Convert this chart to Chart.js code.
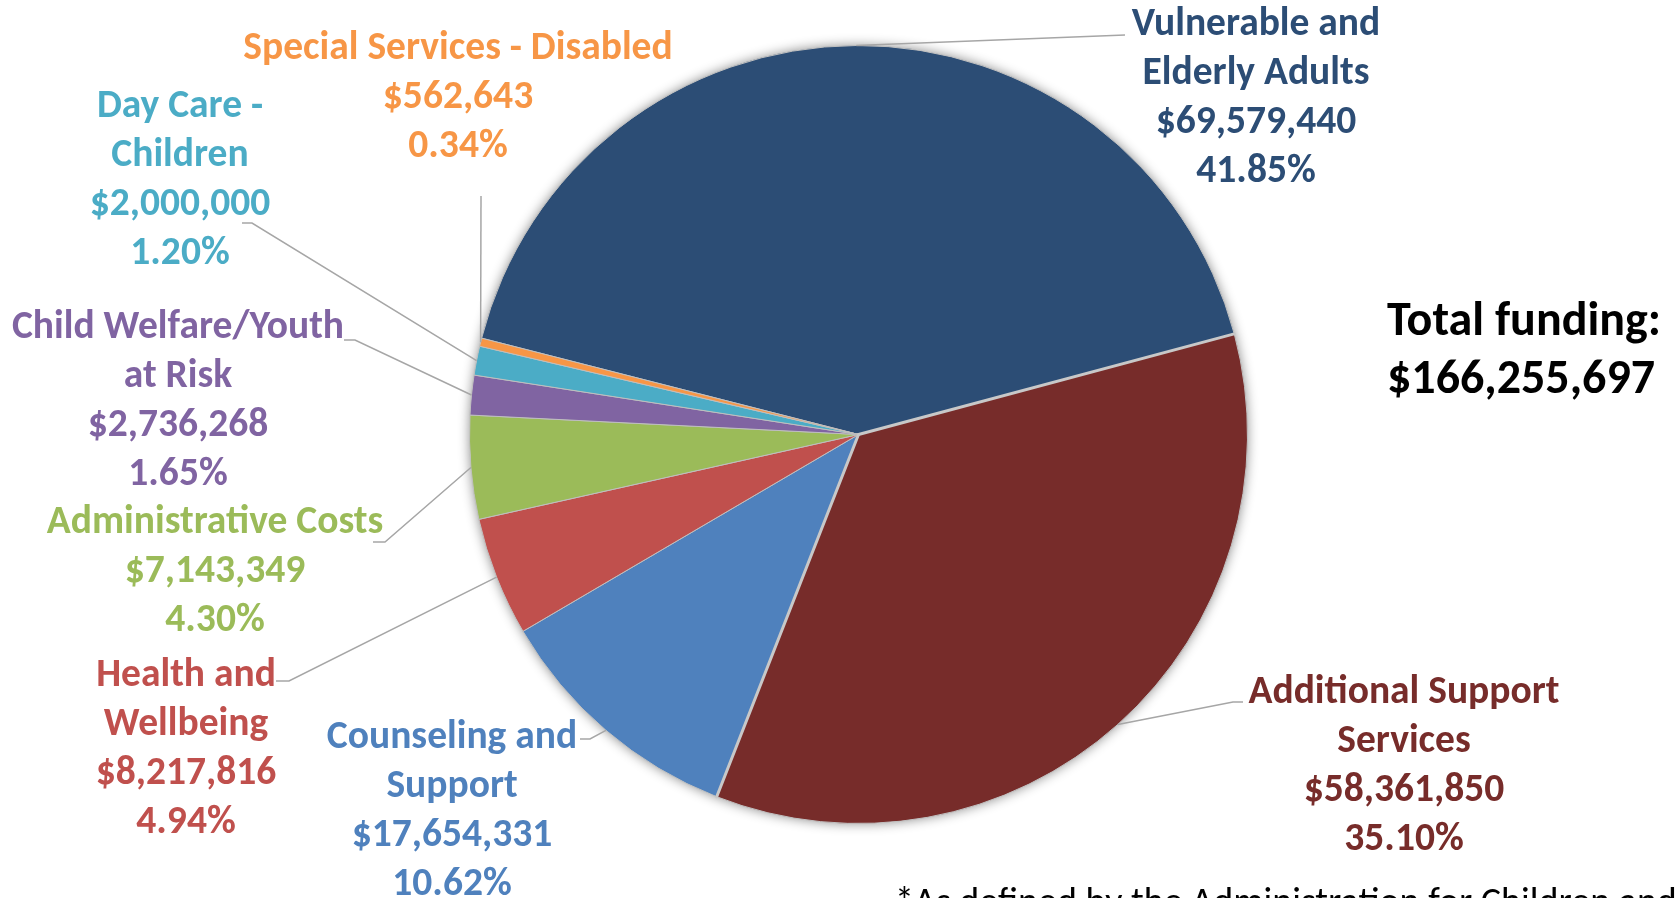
<!DOCTYPE html>
<html>
<head>
<meta charset="utf-8">
<script src="https://cdn.jsdelivr.net/npm/chart.js@4.4.1/dist/chart.umd.min.js"></script>
<style>
  html, body { margin: 0; padding: 0; background: #fff; overflow: hidden; }
  canvas { display: block; }
</style>
</head>
<body>
<canvas id="funding" width="1676" height="898"></canvas>
<script>
// data, in clockwise order from the top
const categories = ["Vulnerable and Elderly Adults", "Additional Support Services", "Counseling and Support",
    "Health and Wellbeing", "Administrative Costs", "Child Welfare/Youth at Risk", "Day Care - Children",
    "Special Services - Disabled"];
const nameLines = [["Vulnerable and", "Elderly Adults"], ["Additional Support", "Services"], ["Counseling and", "Support"],
    ["Health and", "Wellbeing"], ["Administrative Costs"], ["Child Welfare/Youth", "at Risk"], ["Day Care -", "Children"],
    ["Special Services - Disabled"]];
const amounts = [69579440, 58361850, 17654331, 8217816, 7143349, 2736268, 2000000, 562643];
const shares = ["41.85%", "35.10%", "10.62%", "4.94%", "4.30%", "1.65%", "1.20%", "0.34%"];
const totalText = ["Total funding:", "$166,255,697"];
const footnote = "*As defined by the Administration for Children and";

const sliceColors = ["#2c4d75", "#772c2a", "#4f81bd", "#c0504d", "#9bbb59", "#8064a2", "#4bacc6", "#f79646"];

// where each label sits (centre x, first baseline) and the bends of its leader line
const labelAt = [[1256, 35], [1404, 703], [452, 748], [186, 686], [215, 533], [178, 338], [180, 117], [458, 59]];
const leaders = [
    [[1125, 35]],
    [[1233, 702], [1243, 702]],
    [[590, 739], [580, 739]],
    [[289, 681], [276, 681]],
    [[385, 542], [373, 542]],
    [[355, 340], [344, 340]],
    [[252, 223], [242, 223]],
    [[481, 196]]
];

const FONT = '"Carlito", "Lato", "Open Sans", sans-serif';
const money = v => "$" + v.toLocaleString("en-US");

const shadowPlugin = {
    id: "pieShadow",
    beforeDatasetsDraw(chart) {
        const arc = chart.getDatasetMeta(0).data[0];
        if (!arc) return;
        const ctx = chart.ctx;
        ctx.save();
        ctx.shadowColor = "rgba(0,0,0,0.45)";
        ctx.shadowBlur = 12;
        ctx.beginPath();
        ctx.arc(arc.x, arc.y, arc.outerRadius, 0, Math.PI * 2);
        ctx.fillStyle = "#fff";
        ctx.fill();
        ctx.restore();
    }
};

const labelPlugin = {
    id: "calloutLabels",
    afterDatasetsDraw(chart) {
        const ctx = chart.ctx;
        const arcs = chart.getDatasetMeta(0).data;

        // light edges around the big red slice
        const big = arcs[1];
        ctx.save();
        ctx.strokeStyle = "#c8c8c8";
        ctx.lineWidth = 3;
        ctx.lineCap = "round";
        [big.startAngle, big.endAngle].forEach(a => {
            ctx.beginPath();
            ctx.moveTo(big.x, big.y);
            ctx.lineTo(big.x + big.outerRadius * Math.cos(a), big.y + big.outerRadius * Math.sin(a));
            ctx.stroke();
        });
        ctx.restore();

        arcs.forEach((arc, i) => {
            const mid = (arc.startAngle + arc.endAngle) / 2;
            const px = arc.x + arc.outerRadius * Math.cos(mid);
            const py = arc.y + arc.outerRadius * Math.sin(mid);
            ctx.save();
            ctx.strokeStyle = "#a6a6a6";
            ctx.lineWidth = 1.5;
            ctx.beginPath();
            ctx.moveTo(px, py);
            leaders[i].forEach(p => ctx.lineTo(p[0], p[1]));
            ctx.stroke();

            const lines = nameLines[i].concat([money(amounts[i]), shares[i]]);
            ctx.fillStyle = sliceColors[i];
            ctx.font = "bold 39.5px " + FONT;
            ctx.textAlign = "center";
            ctx.textBaseline = "alphabetic";
            lines.forEach((t, k) => ctx.fillText(t, labelAt[i][0], labelAt[i][1] + k * 49));
            ctx.restore();
        });

        ctx.save();
        ctx.fillStyle = "#000";
        ctx.textAlign = "left";
        ctx.font = "bold 48px " + FONT;
        ctx.fillText(totalText[0], 1387, 335);
        ctx.fillText(totalText[1], 1387, 393);
        ctx.font = "38px " + FONT;
        ctx.fillText(footnote, 895, 914);
        ctx.restore();
    }
};

new Chart(document.getElementById("funding"), {
    type: "pie",
    data: {
        labels: categories,
        datasets: [{
            data: amounts,
            backgroundColor: sliceColors,
            borderColor: "#bfbfbf",
            borderWidth: 1
        }]
    },
    options: {
        responsive: false,
        animation: false,
        rotation: -75.66,
        layout: { padding: { left: 469, right: 428, top: 45, bottom: 74 } },
        plugins: {
            legend: { display: false },
            tooltip: { enabled: false }
        }
    },
    plugins: [shadowPlugin, labelPlugin]
});
</script>
</body>
</html>
